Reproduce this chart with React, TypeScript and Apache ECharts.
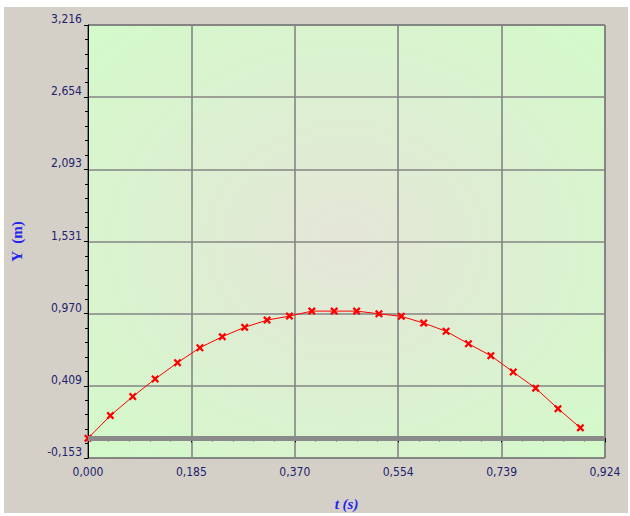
import React, { useEffect, useRef } from "react";
import * as echarts from "echarts";

const T_VALUES = [
  0.0, 0.04, 0.08, 0.12, 0.16, 0.2, 0.24, 0.28, 0.32, 0.36, 0.4, 0.44, 0.48,
  0.52, 0.56, 0.6, 0.64, 0.68, 0.72, 0.76, 0.8, 0.84, 0.88,
];
const Y_VALUES = [
  0.0, 0.177, 0.325, 0.462, 0.589, 0.705, 0.791, 0.864, 0.92, 0.951, 0.99,
  0.99, 0.99, 0.969, 0.949, 0.897, 0.833, 0.736, 0.643, 0.516, 0.39, 0.231,
  0.082,
];
const X_TICK_LABELS = ["0,000", "0,185", "0,370", "0,554", "0,739", "0,924"];
const Y_TICK_LABELS = ["-0,153", "0,409", "0,970", "1,531", "2,093", "2,654", "3,216"];
const X_MIN = 0;
const X_MAX = 0.924;
const Y_MIN = -0.153;
const Y_MAX = 3.216;

const X_MARK =
  "path://M0,2 L2,0 L5,3 L8,0 L10,2 L7,5 L10,8 L8,10 L5,7 L2,10 L0,8 L3,5 Z";

const LABEL_FONT = "'Liberation Sans Narrow', 'DejaVu Sans Condensed', sans-serif";
const LABEL_COLOR = "#22226e";
const NAME_COLOR = "#2424f0";

export default function App() {
  const ref = useRef<HTMLDivElement>(null);

  useEffect(() => {
    if (!ref.current) return;
    const chart = echarts.init(ref.current, undefined, { renderer: "svg" });
    const data = T_VALUES.map((t, i) => [t, Y_VALUES[i]]);
    const axisCommon = {
      axisLine: { show: true, lineStyle: { color: "#000", width: 1 } },
      axisTick: { show: true, length: 4, lineStyle: { color: "#000" } },
      minorTick: { show: true, splitNumber: 5, length: 3, lineStyle: { color: "#000" } },
      splitLine: { show: true, lineStyle: { color: "#858585", width: 1.6 } },
      minorSplitLine: { show: false },
    };
    chart.setOption({
      animation: false,
      backgroundColor: "#ffffff",
      graphic: [
        {
          type: "rect",
          z: -100,
          silent: true,
          shape: { x: 4, y: 7, width: 624, height: 506 },
          style: { fill: "#d4d0c8" },
        },
      ],
      grid: {
        left: 88,
        right: 25,
        top: 25,
        bottom: 57,
        show: true,
        borderColor: "#333",
        borderWidth: 1,
        backgroundColor: new echarts.graphic.RadialGradient(0.5, 0.5, 0.75, [
          { offset: 0, color: "#e5e6d8" },
          { offset: 1, color: "#d2fbc9" },
        ]),
      },
      xAxis: {
        type: "value",
        min: X_MIN,
        max: X_MAX,
        interval: (X_MAX - X_MIN) / 5,
        name: "t (s)",
        nameLocation: "middle",
        nameGap: 38,
        nameTextStyle: {
          fontFamily: "'Liberation Serif', 'DejaVu Serif', serif",
          fontWeight: "bold",
          fontStyle: "italic",
          fontSize: 15,
          color: NAME_COLOR,
        },
        ...axisCommon,
        axisLabel: {
          margin: 8,
          fontFamily: LABEL_FONT,
          fontSize: 12,
          color: LABEL_COLOR,
          formatter: (_v: number, i: number) => X_TICK_LABELS[i] ?? "",
        },
      },
      yAxis: {
        type: "value",
        min: Y_MIN,
        max: Y_MAX,
        interval: (Y_MAX - Y_MIN) / 6,
        name: "Y  (m)",
        nameLocation: "middle",
        nameGap: 64,
        nameTextStyle: {
          fontFamily: "'Liberation Serif', 'DejaVu Serif', serif",
          fontWeight: "bold",
          fontSize: 15,
          color: NAME_COLOR,
        },
        ...axisCommon,
        axisLabel: {
          margin: 6,
          verticalAlign: "bottom",
          fontFamily: LABEL_FONT,
          fontSize: 12,
          color: LABEL_COLOR,
          formatter: (_v: number, i: number) => Y_TICK_LABELS[i] ?? "",
        },
      },
      series: [
        {
          type: "line",
          data,
          symbol: X_MARK,
          symbolSize: 8,
          showAllSymbol: true,
          clip: false,
          lineStyle: { color: "#ff0000", width: 1 },
          itemStyle: { color: "#ff0000" },
          markLine: {
            silent: true,
            symbol: "none",
            label: { show: false },
            lineStyle: { color: "#8a8a8a", width: 5, type: "solid" },
            data: [{ yAxis: 0 }],
          },
        },
      ],
    });
    return () => chart.dispose();
  }, []);

  return (
    <div style={{ position: "absolute", left: 0, top: 0, width: 630, height: 516, background: "#fff" }}>
      <div ref={ref} style={{ width: 630, height: 516 }} />
    </div>
  );
}
